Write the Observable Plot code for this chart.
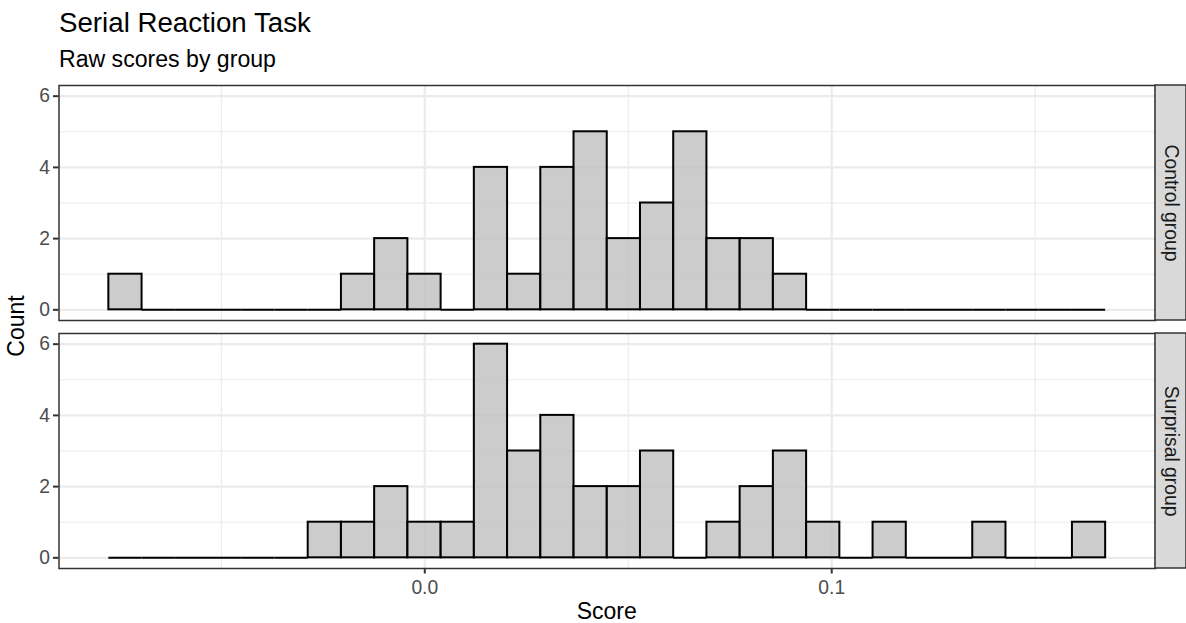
<!DOCTYPE html>
<html><head><meta charset="utf-8">
<script src="https://cdn.jsdelivr.net/npm/d3@7"></script>
<script src="https://cdn.jsdelivr.net/npm/@observablehq/plot@0.6"></script>
<style>
body{margin:0;background:#fff;font-family:"Liberation Sans",Arial,Helvetica,sans-serif;}
#wrap{position:relative;width:1186px;height:623px;overflow:hidden;}
.t{position:absolute;white-space:nowrap;line-height:1;color:#000;}
#chart{position:absolute;left:0;top:78px;}
</style></head><body>
<div id="wrap">
<div class="t" style="left:59px;top:8.5px;font-size:27.7px;">Serial Reaction Task</div>
<div class="t" style="left:59px;top:47.5px;font-size:23.1px;">Raw scores by group</div>
<div id="chart"></div>
<div class="t" style="left:606.7px;top:600px;font-size:23px;transform:translateX(-50%);">Score</div>
<div class="t" style="left:15.5px;top:326px;font-size:23px;transform:translate(-50%,-50%) rotate(-90deg);">Count</div>
</div>
<script>
const groups = ["Control group", "Surprisal group"];
const controlCounts   = [1,0,0,0,0,0,0,1,2,1,0,4,1,4,5,2,3,5,2,2,1,0,0,0,0,0,0,0,0,0];
const surprisalCounts = [0,0,0,0,0,0,1,1,2,1,1,6,3,4,2,2,3,0,1,2,3,1,0,1,0,0,1,0,0,1];
const binStart = -0.07764;
const binWidth = 0.0081653;
const xTicks = [0, 0.1];
const xMinorGrid = [-0.05, 0.05, 0.15];
const yTicks = [0, 2, 4, 6];
const yMinorGrid = [1, 3, 5];

const rows = [];
groups.forEach((g, gi) => {
  const counts = gi === 0 ? controlCounts : surprisalCounts;
  counts.forEach((n, i) => rows.push({group: g, x1: binStart + i * binWidth, x2: binStart + (i + 1) * binWidth, count: n}));
});
const nBins = controlCounts.length;
const lo = binStart, hi = binStart + nBins * binWidth, r = hi - lo;
const xlo = lo - 0.05 * r, xhi = hi + 0.05 * r;
const ylo = -0.3, yhi = 6.3;
const fs = 19.3;

const chart = Plot.plot({
  width: 1186, height: 545,
  marginTop: 6, marginBottom: 55, marginLeft: 58.5, marginRight: 31,
  style: {fontFamily: '"Liberation Sans",Arial,Helvetica,sans-serif', fontSize: fs + "px", background: "transparent", overflow: "visible"},
  x: {domain: [xlo, xhi]},
  y: {domain: [ylo, yhi]},
  fy: {domain: groups, padding: 0.054, axis: null},
  marks: [
    Plot.gridX(xMinorGrid, {stroke: "#EBEBEB", strokeOpacity: 1, strokeWidth: 1.1}),
    Plot.gridY(yMinorGrid, {stroke: "#EBEBEB", strokeOpacity: 1, strokeWidth: 1.1}),
    Plot.gridX(xTicks, {stroke: "#EBEBEB", strokeOpacity: 1, strokeWidth: 2.2}),
    Plot.gridY(yTicks, {stroke: "#EBEBEB", strokeOpacity: 1, strokeWidth: 2.2}),
    Plot.ruleY(rows.filter(d => d.count === 0), {y: 0, x1: "x1", x2: "x2", fy: "group", stroke: "black", strokeWidth: 2}),
    Plot.rectY(rows.filter(d => d.count > 0), {x1: "x1", x2: "x2", y1: 0, y2: "count", fy: "group", fill: "#bebebe", fillOpacity: 0.78, stroke: "black", strokeWidth: 2}),
    Plot.frame({stroke: "#333", strokeWidth: 1.5}),
    Plot.rect(groups, {fy: d => d, x1: xhi, x2: xhi, y1: ylo, y2: yhi, insetRight: -31, fill: "#D9D9D9", stroke: "#333", strokeWidth: 1.5}),
    Plot.text(groups, {fy: d => d, x: xhi, y: (ylo + yhi) / 2, dx: 15.5, text: d => d, rotate: 90, fill: "#1A1A1A", fontSize: fs}),
    Plot.axisX(xTicks, {tickFormat: d3.format(".1f"), tickSize: 5.5, tickPadding: 6, stroke: "#333", strokeWidth: 2, fill: "#4D4D4D", fontSize: fs, label: null}),
    Plot.axisY(yTicks, {tickSize: 5.5, tickPadding: 3.5, stroke: "#333", strokeWidth: 2, fill: "#4D4D4D", fontSize: fs, label: null})
  ]
});
document.getElementById("chart").appendChild(chart);
</script>
</body></html>
